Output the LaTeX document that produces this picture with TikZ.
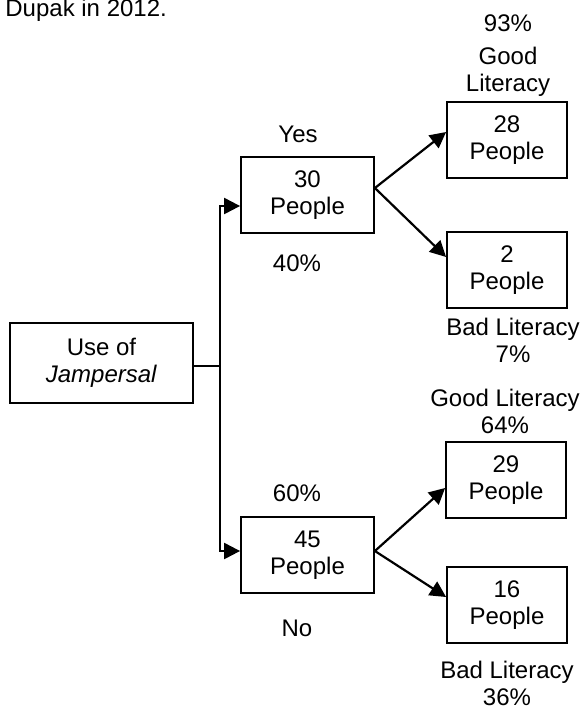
\documentclass[tikz,border=0pt]{standalone}
\usepackage{fontspec}
\setmainfont{Liberation Sans}
\usetikzlibrary{arrows.meta}

\begin{document}
\begin{tikzpicture}[x=0.5pt,y=-0.5pt,
  font=\fontsize{12}{13.5}\selectfont,
  box/.style={draw,line width=0.9pt,align=center,inner sep=0pt,minimum width=60pt,minimum height=38pt},
  txt/.style={align=center,inner sep=0pt},
  arr/.style={line width=1.1pt,-{Triangle[length=8pt,width=8pt]}}]
\useasboundingbox (0,0) rectangle (582,708);
\node[txt,anchor=base west] (cap) at (5,16) {Dupak in 2012.};

\node[box,minimum width=91.5pt,minimum height=40pt] (use) at (101.5,363) {Use of\\\textit{Jampersal}};
\node[box,minimum width=66.5pt] (yes) at (307.5,195) {30\\People};
\node[box,minimum width=66.5pt] (no) at (307.5,555) {45\\People};
\node[box] (g1) at (507,140) {28\\People};
\node[box] (b1) at (507,270) {2\\People};
\node[box] (g2) at (506,480) {29\\People};
\node[box] (b2) at (507,605) {16\\People};

\node[txt] (yeslbl) at (298,134) {Yes};
\node[txt] (p40) at (297,263) {40\%};
\node[txt] (p60) at (297,493) {60\%};
\node[txt] (nolbl) at (297,628) {No};
\node[txt] (p93) at (508,23) {93\%};
\node[txt] (g1lbl) at (508,72) {Good\\Literacy};
\node[txt] (b1lbl) at (513,340) {Bad Literacy\\7\%};
\node[txt] (g2lbl) at (505,411) {Good Literacy\\64\%};
\node[txt] (b2lbl) at (507,683) {Bad Literacy\\36\%};

\coordinate (split) at (220,366);
\coordinate (yesin) at (220,206);
\coordinate (noin) at (220,551);
\draw[line width=1.1pt] (use.east |- split) -- (split);
\draw[arr] (split) -- (yesin) -- (yes.west |- yesin);
\draw[arr] (split) -- (noin) -- (no.west |- noin);

\draw[arr] ([yshift=3.5pt]yes.east) -- ([yshift=4pt]g1.west);
\draw[arr] ([yshift=3.5pt]yes.east) -- ([yshift=6.5pt]b1.west);
\draw[arr] ([yshift=2pt]no.east) -- ([yshift=-4pt]g2.west);
\draw[arr] ([yshift=2pt]no.east) -- ([yshift=4pt]b2.west);
\end{tikzpicture}
\end{document}
